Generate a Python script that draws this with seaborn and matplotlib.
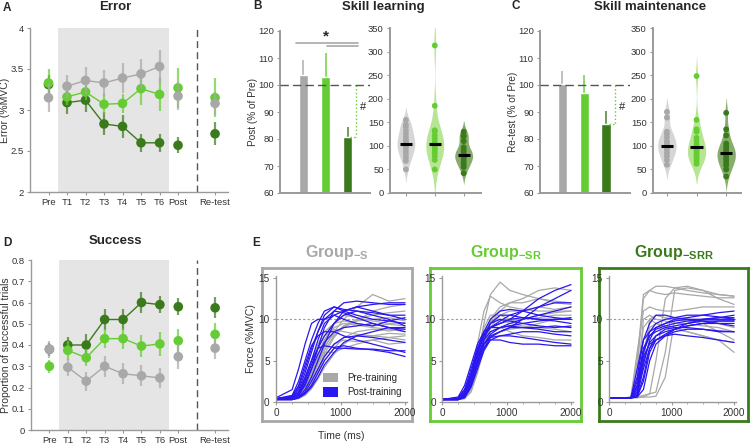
import numpy as np
import pandas as pd
import matplotlib
matplotlib.use("Agg")
import matplotlib.pyplot as plt
import seaborn as sns
from matplotlib.patches import Patch

sns.set_style("ticks")
plt.rcParams['font.family'] = ['Liberation Sans', 'DejaVu Sans']
plt.rcParams['mathtext.fontset'] = 'custom'
plt.rcParams['mathtext.rm'] = 'Liberation Sans'
plt.rcParams['mathtext.bf'] = 'Liberation Sans:bold'

groups = ["S", "SR", "SRR"]
colors = {"S": "#a8a8a8", "SR": "#66cc33", "SRR": "#3b7a1c"}
violin_colors = {"S": "#d6d6d6", "SR": "#b6e593", "SRR": "#87ad6b"}
blue = "#2a16f0"

sessions = ["Pre", "T1", "T2", "T3", "T4", "T5", "T6", "Post", "Re-test"]
session_pos = [0, 1, 2, 3, 4, 5, 6, 7, 9]

# A - error
err_S = [3.15, 3.29, 3.36, 3.33, 3.39, 3.44, 3.53, 3.17, 3.08]
err_S_se = [0.18, 0.14, 0.16, 0.16, 0.18, 0.18, 0.20, 0.17, 0.14]
err_SR = [3.33, 3.16, 3.22, 3.07, 3.08, 3.26, 3.19, 3.27, 3.15]
err_SR_se = [0.17, 0.10, 0.10, 0.12, 0.12, 0.20, 0.20, 0.24, 0.24]
err_SRR = [3.31, 3.09, 3.12, 2.83, 2.80, 2.60, 2.60, 2.57, 2.71]
err_SRR_se = [0.12, 0.14, 0.15, 0.14, 0.14, 0.11, 0.11, 0.10, 0.14]

# D - success
suc_S = [0.38, 0.295, 0.23, 0.30, 0.265, 0.255, 0.245, 0.345, 0.385]
suc_S_se = [0.04, 0.04, 0.045, 0.05, 0.05, 0.05, 0.045, 0.06, 0.05]
suc_SR = [0.30, 0.375, 0.34, 0.43, 0.43, 0.395, 0.405, 0.42, 0.45]
suc_SR_se = [0.03, 0.045, 0.04, 0.045, 0.05, 0.05, 0.055, 0.055, 0.055]
suc_SRR = [0.38, 0.40, 0.40, 0.52, 0.52, 0.60, 0.59, 0.58, 0.575]
suc_SRR_se = [0.03, 0.04, 0.05, 0.05, 0.05, 0.05, 0.04, 0.04, 0.05]

# B / C bars
learn_mean = [103.8, 102.9, 80.7]
learn_se = [5.4, 8.9, 3.6]
maint_mean = [100.5, 97.0, 85.5]
maint_se = [4.8, 6.8, 5.0]

# B / C individual values
learn_S = [50, 68, 75, 82, 88, 95, 100, 104, 108, 112, 118, 125, 132, 140, 145, 155]
learn_SR = [50, 70, 78, 85, 90, 95, 100, 103, 108, 115, 122, 130, 133, 185, 313]
learn_SRR = [42, 55, 60, 65, 70, 75, 78, 80, 83, 88, 92, 97, 110, 120, 122, 130]
learn_med = [104, 103, 80]
maint_S = [60, 70, 78, 85, 92, 97, 100, 105, 110, 118, 125, 130, 160, 172]
maint_SR = [62, 68, 72, 76, 80, 84, 88, 92, 97, 103, 110, 117, 130, 135, 155, 248]
maint_SRR = [35, 50, 58, 63, 68, 73, 78, 82, 86, 90, 95, 100, 105, 122, 135, 170]
maint_med = [100, 97, 85]

# E - force traces (ms, %MVC)
trace_time = [0, 250, 350, 450, 550, 650, 750, 900, 1050, 1250, 1500, 1750, 2000]
S_pre = [
    [0.4, 0.4, 0.6, 1.5, 3.0, 4.8, 6.5, 8.5, 10.0, 11.5, 13.0, 12.2, 12.5],
    [0.3, 0.3, 0.5, 1.2, 2.5, 4.0, 5.8, 7.8, 9.2, 10.0, 10.5, 10.8, 11.0],
    [0.3, 0.5, 1.0, 2.2, 4.0, 5.8, 7.5, 9.0, 9.5, 9.3, 9.0, 8.8, 8.5],
    [0.4, 0.4, 0.6, 1.0, 2.0, 3.5, 5.0, 6.5, 7.8, 8.5, 8.8, 8.6, 8.8],
    [0.3, 0.3, 0.4, 0.8, 1.6, 2.8, 4.2, 5.8, 7.0, 8.0, 8.0, 7.8, 8.0],
    [0.3, 0.6, 1.5, 3.0, 5.0, 7.0, 8.5, 9.5, 9.8, 9.5, 9.2, 9.4, 9.2],
    [0.4, 0.4, 0.8, 1.8, 3.5, 5.5, 7.5, 9.5, 10.5, 10.2, 9.8, 9.5, 9.6],
    [0.3, 0.3, 0.5, 1.0, 2.2, 3.8, 5.5, 7.0, 7.5, 7.3, 7.5, 7.8, 7.5],
    [0.4, 0.5, 1.2, 2.8, 4.5, 6.5, 8.0, 8.8, 8.5, 8.2, 8.0, 8.3, 8.2],
    [0.3, 0.3, 0.6, 1.4, 2.8, 4.5, 6.2, 8.0, 9.0, 9.8, 11.0, 11.5, 11.8],
    [0.3, 0.4, 0.7, 1.6, 3.2, 5.0, 6.0, 6.0, 6.5, 7.0, 7.5, 7.0, 7.2],
    [0.4, 0.4, 0.9, 2.0, 3.6, 5.2, 6.8, 8.2, 9.2, 9.8, 10.0, 10.2, 9.8],
]
S_post = [
    [0.5, 1.5, 4.0, 7.0, 9.5, 10.0, 10.0, 10.5, 11.0, 11.5, 11.0, 10.5, 10.0],
    [0.4, 0.8, 2.5, 5.0, 7.5, 9.5, 11.0, 11.5, 11.0, 10.5, 10.0, 9.8, 9.5],
    [0.3, 0.4, 0.8, 2.0, 4.0, 6.5, 9.0, 11.0, 12.0, 12.2, 12.0, 11.8, 11.8],
    [0.3, 0.3, 0.6, 1.5, 3.0, 5.0, 7.0, 9.5, 11.0, 11.5, 11.8, 12.0, 12.0],
    [0.4, 0.5, 1.2, 3.0, 5.0, 6.5, 6.8, 6.6, 6.8, 6.5, 6.3, 6.0, 5.5],
    [0.3, 0.3, 0.5, 1.0, 2.0, 3.5, 5.0, 6.5, 6.5, 6.4, 6.4, 6.2, 6.2],
    [0.4, 0.6, 1.8, 4.0, 6.5, 8.5, 10.0, 11.0, 10.8, 10.2, 9.5, 9.0, 8.8],
    [0.3, 0.4, 1.0, 2.5, 4.5, 6.5, 8.0, 9.5, 10.5, 11.0, 10.5, 10.0, 9.2],
    [0.3, 0.3, 0.6, 1.2, 2.5, 4.0, 5.5, 7.0, 7.8, 8.0, 7.8, 7.5, 7.2],
    [0.4, 0.5, 1.5, 3.5, 6.0, 8.5, 10.5, 11.5, 11.2, 11.0, 10.8, 10.5, 10.5],
    [0.3, 0.4, 0.9, 2.2, 4.0, 5.8, 7.2, 8.5, 9.0, 9.2, 9.5, 9.0, 8.5],
    [0.3, 0.3, 0.5, 1.0, 1.8, 3.0, 4.5, 6.0, 7.2, 8.0, 8.5, 9.0, 9.0],
    [0.4, 0.7, 2.0, 4.5, 6.8, 8.0, 8.5, 8.5, 8.0, 7.5, 7.0, 6.5, 6.0],
    [0.3, 0.4, 1.0, 2.8, 5.0, 7.5, 9.5, 10.5, 10.0, 9.5, 9.2, 9.8, 10.2],
]
SR_pre = [
    [0.3, 0.3, 0.8, 3.0, 7.0, 11.0, 12.8, 12.0, 11.5, 11.2, 11.0, 11.0, 11.0],
    [0.3, 0.3, 0.5, 2.0, 5.5, 9.5, 13.0, 14.5, 13.5, 13.0, 12.5, 12.0, 11.8],
    [0.3, 0.3, 0.6, 2.0, 4.5, 7.5, 10.0, 11.5, 12.0, 12.0, 12.5, 12.2, 12.0],
    [0.3, 0.3, 0.5, 1.5, 4.0, 7.0, 9.5, 11.0, 12.0, 12.5, 13.5, 13.8, 13.5],
    [0.3, 0.3, 0.5, 1.8, 4.5, 7.5, 9.0, 9.5, 9.8, 10.0, 10.5, 10.8, 11.0],
    [0.3, 0.4, 1.0, 3.0, 6.0, 8.5, 9.8, 10.0, 9.5, 9.2, 9.0, 8.8, 8.5],
    [0.3, 0.3, 0.6, 2.0, 4.5, 7.0, 8.5, 9.0, 8.5, 8.0, 7.8, 7.5, 7.5],
    [0.3, 0.3, 0.4, 1.2, 3.5, 6.5, 9.0, 10.5, 11.0, 11.0, 11.5, 11.2, 11.5],
    [0.3, 0.3, 0.5, 1.5, 4.0, 6.5, 8.0, 8.5, 8.8, 9.0, 9.5, 10.0, 10.0],
    [0.3, 0.3, 0.5, 2.5, 6.0, 9.0, 10.5, 10.5, 10.0, 10.0, 10.2, 10.5, 10.5],
]
SR_post = [
    [0.3, 0.4, 1.0, 3.0, 6.0, 8.0, 9.0, 9.5, 10.0, 11.0, 12.5, 13.5, 14.2],
    [0.3, 0.3, 0.8, 2.5, 5.0, 7.0, 8.0, 8.5, 9.0, 10.0, 11.5, 12.5, 13.5],
    [0.3, 0.5, 1.5, 4.0, 6.5, 8.0, 9.0, 9.5, 10.0, 10.2, 10.0, 9.8, 9.5],
    [0.3, 0.3, 0.6, 2.0, 4.5, 6.5, 7.5, 7.5, 7.2, 7.0, 7.0, 6.8, 6.8],
    [0.3, 0.4, 1.2, 3.5, 6.5, 8.5, 10.0, 11.0, 11.2, 11.0, 10.5, 10.2, 10.0],
    [0.3, 0.3, 0.8, 2.8, 5.5, 7.5, 8.5, 9.0, 9.2, 9.0, 9.0, 9.2, 9.0],
    [0.3, 0.5, 1.5, 3.5, 5.5, 7.0, 7.8, 8.0, 8.0, 7.8, 7.5, 7.2, 7.0],
    [0.3, 0.3, 0.6, 2.0, 4.8, 7.5, 9.5, 10.5, 10.5, 10.2, 10.0, 10.0, 10.2],
    [0.3, 0.4, 1.0, 3.0, 5.8, 8.0, 9.0, 9.8, 10.5, 11.0, 11.5, 12.0, 12.0],
    [0.3, 0.3, 0.8, 2.2, 4.5, 6.5, 7.8, 8.5, 9.0, 9.0, 8.8, 8.5, 8.5],
    [0.3, 0.6, 2.0, 4.5, 7.0, 8.5, 9.0, 9.0, 9.2, 9.5, 9.8, 10.0, 10.0],
    [0.3, 0.3, 0.7, 2.5, 5.0, 7.0, 8.2, 9.0, 9.5, 10.0, 10.5, 11.0, 11.5],
    [0.3, 0.4, 1.2, 3.2, 6.0, 8.2, 9.5, 10.0, 9.8, 9.5, 9.2, 9.0, 9.2],
    [0.3, 0.3, 0.5, 1.8, 4.0, 6.2, 7.5, 8.0, 8.2, 8.5, 8.5, 8.2, 8.0],
]
SRR_pre = [
    [0.5, 0.5, 0.5, 4.0, 12.5, 13.5, 14.0, 14.0, 13.8, 13.5, 13.2, 13.0, 12.8],
    [0.5, 0.5, 0.6, 6.0, 11.0, 11.5, 11.2, 11.0, 11.0, 11.2, 11.5, 11.5, 11.5],
    [0.5, 0.5, 0.5, 2.0, 10.0, 10.5, 10.0, 9.8, 9.5, 9.5, 9.2, 9.0, 8.5],
    [0.5, 0.5, 0.5, 0.8, 5.0, 10.0, 10.5, 10.2, 10.0, 9.8, 9.5, 8.5, 7.5],
    [0.5, 0.5, 0.5, 0.6, 0.8, 1.0, 1.2, 6.0, 13.5, 13.8, 13.5, 12.5, 11.8],
    [0.5, 0.5, 0.5, 0.6, 0.6, 0.6, 0.7, 3.0, 10.0, 10.0, 9.8, 9.5, 9.0],
    [0.5, 0.5, 0.5, 3.0, 9.0, 10.0, 9.5, 9.0, 8.8, 8.5, 8.0, 7.5, 6.0],
    [0.5, 0.5, 0.5, 1.5, 6.0, 9.0, 9.5, 9.2, 9.0, 8.5, 8.0, 7.5, 7.2],
    [0.5, 0.5, 0.6, 5.0, 13.0, 13.5, 13.2, 13.0, 13.2, 13.0, 12.8, 12.6, 12.6],
    [0.5, 0.5, 0.5, 0.5, 0.6, 1.0, 5.0, 12.5, 13.8, 14.0, 13.5, 13.0, 12.8],
]
SRR_post = [
    [0.5, 0.5, 0.5, 4.0, 7.5, 8.5, 9.0, 9.5, 10.0, 10.2, 10.5, 10.8, 11.0],
    [0.5, 0.5, 0.5, 2.0, 6.0, 8.0, 8.8, 9.2, 9.5, 9.8, 10.0, 10.2, 10.2],
    [0.5, 0.5, 0.5, 1.0, 5.0, 7.2, 8.0, 8.5, 8.8, 9.2, 9.5, 9.8, 9.8],
    [0.5, 0.5, 0.5, 0.6, 2.5, 6.0, 7.5, 8.2, 8.8, 9.2, 9.5, 9.5, 9.5],
    [0.5, 0.5, 0.5, 3.0, 7.5, 9.5, 10.5, 10.5, 10.2, 10.0, 9.8, 9.5, 9.2],
    [0.5, 0.5, 0.5, 0.8, 4.0, 6.5, 7.5, 8.0, 8.5, 8.8, 8.8, 8.5, 8.5],
    [0.5, 0.5, 0.5, 1.5, 5.5, 7.0, 7.5, 8.0, 8.2, 8.0, 7.8, 7.5, 7.2],
    [0.5, 0.5, 0.5, 0.6, 1.5, 5.0, 7.0, 8.0, 8.8, 9.5, 10.0, 10.2, 10.5],
    [0.5, 0.5, 0.5, 2.5, 6.5, 8.0, 8.5, 9.0, 9.2, 9.5, 9.8, 9.8, 9.8],
    [0.5, 0.5, 0.5, 1.2, 4.5, 7.5, 9.0, 9.5, 9.8, 10.0, 10.0, 10.0, 10.0],
    [0.5, 0.5, 0.5, 0.7, 3.0, 6.5, 8.0, 8.8, 9.0, 9.0, 8.8, 8.6, 8.5],
    [0.5, 0.5, 0.5, 1.8, 6.0, 8.5, 9.5, 10.0, 10.2, 10.5, 10.5, 10.3, 10.0],
]

W, H = 750, 445
fig = plt.figure(figsize=(W / 100, H / 100), dpi=100)


def px(x0, y0, x1, y1):
    # pixel box (top-left origin) -> figure fraction rect
    return [x0 / W, (H - y1) / H, (x1 - x0) / W, (y1 - y0) / H]


def style_axis(ax, lw=1.0, size=7):
    sns.despine(ax=ax)
    for s in ["left", "bottom"]:
        ax.spines[s].set_color("#9a9a9a")
        ax.spines[s].set_linewidth(lw)
    ax.tick_params(colors="#9a9a9a", labelcolor="#333333", labelsize=size, length=2.5, width=0.8, pad=2)


def session_panel(ax, means, ses, ylim, yticks, ylabels, ylabel):
    ax.axvspan(0.5, 6.5, color="#e5e5e5", lw=0, zorder=0)
    ax.axvline(8, color="#555555", ls=(0, (5, 3)), lw=1, zorder=1)
    for i, g in enumerate(["SRR", "SR", "S"]):
        df = pd.DataFrame({"pos": session_pos, "m": means[g], "se": ses[g]})
        z = 2 + i * 3
        ax.errorbar(df.pos, df.m, yerr=df.se, fmt="none", ecolor=colors[g],
                    elinewidth=1.6, alpha=0.7, zorder=z)
        sub = df[(df.pos >= 1) & (df.pos <= 6)]
        sns.lineplot(data=sub, x="pos", y="m", color=colors[g], lw=1, ax=ax, zorder=z + 1)
        sns.scatterplot(data=df, x="pos", y="m", color=colors[g], s=48, edgecolor="none",
                        ax=ax, zorder=z + 2)
    ax.set_xlim(-1.0, 9.7)
    ax.set_ylim(*ylim)
    ax.set_yticks(yticks)
    ax.set_yticklabels(ylabels)
    ax.set_xticks(session_pos)
    ax.set_xticklabels(sessions)
    ax.set_xlabel("")
    ax.set_ylabel(ylabel, fontsize=7.5, color="#333333")
    style_axis(ax, size=6.8)
    ax.tick_params(axis="x", pad=1.5)
    ax.yaxis.set_label_coords(-0.1, 0.5)


def bar_panel(ax, means, ses, xlim, ylabel, bracket_x, hash_x, stars=False):
    df = pd.DataFrame({"group": groups, "v": means})
    sns.barplot(data=df, x="group", y="v", hue="group", palette=colors, width=0.42,
                saturation=1, legend=False, ax=ax, zorder=2)
    for i, g in enumerate(groups):
        ax.errorbar(i, means[i], yerr=[[0], [ses[i]]], fmt="none", ecolor=colors[g],
                    elinewidth=1.2, alpha=0.85, zorder=1)
    ax.axhline(100, color="#555555", ls=(0, (6, 3)), lw=1, zorder=3)
    ax.plot([bracket_x, bracket_x], [100, means[2]], color="#66cc33", ls=":", lw=1)
    ax.plot([bracket_x - 0.25, bracket_x], [means[2], means[2]], color="#66cc33", ls=":", lw=1)
    ax.text(hash_x, 92, "#", fontsize=8, ha="center", va="center", color="#222222")
    if stars:
        ax.plot([-0.35, 2.45], [115.6, 115.6], color="#a8a8a8", lw=1.2, clip_on=False)
        ax.plot([1.05, 2.45], [114.6, 114.6], color="#a8a8a8", lw=1.2, clip_on=False)
        ax.text(1.0, 118.0, "*", fontsize=11, fontweight="bold", ha="center", va="center")
    ax.set_xlim(*xlim)
    ax.set_ylim(60, 120)
    ax.set_yticks(range(60, 121, 10))
    ax.set_xticks([])
    ax.set_xlabel("")
    ax.set_ylabel(ylabel, fontsize=7.2, color="#333333")
    style_axis(ax, lw=1.4, size=6.8)
    ax.yaxis.set_label_coords(-0.25, 0.5)


def violin_panel(ax, values, meds, xlim):
    df = pd.DataFrame({
        "group": sum([[g] * len(v) for g, v in zip(groups, values)], []),
        "v": sum(values, []),
    })
    sns.violinplot(data=df, x="group", y="v", hue="group", palette=violin_colors,
                   inner=None, width=0.62, linewidth=0, saturation=1, density_norm="width",
                   bw_adjust=0.8, legend=False, ax=ax)
    sns.stripplot(data=df, x="group", y="v", hue="group", palette=colors, jitter=False,
                  size=4.2, linewidth=0, legend=False, ax=ax, zorder=3)
    ax.hlines(meds, [i - 0.21 for i in range(3)], [i + 0.21 for i in range(3)],
              color="black", lw=2.2, zorder=4)
    ax.set_xlim(*xlim)
    ax.set_ylim(0, 350)
    ax.set_yticks(range(0, 351, 50))
    ax.set_xticks(range(3))
    ax.set_xticklabels([])
    ax.set_xlabel("")
    ax.set_ylabel("")
    style_axis(ax, lw=1.4, size=6.8)


# ---- A
axA = fig.add_axes(px(30, 28, 228, 192))
session_panel(axA,
              {"S": err_S, "SR": err_SR, "SRR": err_SRR},
              {"S": err_S_se, "SR": err_SR_se, "SRR": err_SRR_se},
              (2, 4), [2, 2.5, 3, 3.5, 4], ["2", "2.5", "3", "3.5", "4"], "Error (%MVC)")

# ---- D
axD = fig.add_axes(px(31, 260, 228, 430))
session_panel(axD,
              {"S": suc_S, "SR": suc_SR, "SRR": suc_SRR},
              {"S": suc_S_se, "SR": suc_SR_se, "SRR": suc_SRR_se},
              (0, 0.8), [0, 0.1, 0.2, 0.3, 0.4, 0.5, 0.6, 0.7, 0.8],
              ["0", "0.1", "0.2", "0.3", "0.4", "0.5", "0.6", "0.7", "0.8"],
              "Proportion of successful trials")

# ---- B
axB1 = fig.add_axes(px(280, 31, 370, 193))
bar_panel(axB1, learn_mean, learn_se, (-1.05, 3.0), "Post (% of Pre)", 2.36, 2.68, stars=True)
axB2 = fig.add_axes(px(390, 28, 481, 193))
violin_panel(axB2, [learn_S, learn_SR, learn_SRR], learn_med, (-0.55, 2.6))

# ---- C
axC1 = fig.add_axes(px(540, 31, 630, 193))
bar_panel(axC1, maint_mean, maint_se, (-1.02, 3.1), "Re-test (% of Pre)", 2.4, 2.75)
axC2 = fig.add_axes(px(653, 28, 741, 193))
violin_panel(axC2, [maint_S, maint_SR, maint_SRR], maint_med, (-0.47, 2.5))

# ---- E
boxes = [(262, 412), (430, 581), (599, 748)]
inner_left = [276, 442, 609]
inner_width = [131, 131, 127]
trace_sets = [(S_pre, S_post), (SR_pre, SR_post), (SRR_pre, SRR_post)]
titles = [r"$\mathbf{Group}_{\mathbf{-S}}$", r"$\mathbf{Group}_{\mathbf{-SR}}$",
          r"$\mathbf{Group}_{\mathbf{-SRR}}$"]
for k, g in enumerate(groups):
    bx0, bx1 = boxes[k]
    frame = fig.add_axes(px(bx0, 268, bx1, 421))
    frame.set_facecolor("none")
    frame.set_xticks([])
    frame.set_yticks([])
    for s in frame.spines.values():
        s.set_color(colors[g])
        s.set_linewidth(2)
    fig.text((bx0 + bx1) / 2 / W, (H - 253) / H, titles[k], color=colors[g],
             fontsize=11.5, ha="center", va="center")

    ax = fig.add_axes(px(inner_left[k], 275.5, inner_left[k] + inner_width[k], 402))
    ax.set_facecolor("none")
    pre, post = trace_sets[k]
    for tr in pre:
        sns.lineplot(x=trace_time, y=tr, color="#a8a8a8", lw=0.9, ax=ax)
    for tr in post:
        sns.lineplot(x=trace_time, y=tr, color=blue, lw=0.9, ax=ax)
    ax.axhline(10, color="#999999", ls=(0, (2, 2)), lw=0.8, zorder=0)
    ax.set_xlim(0, 2030)
    ax.set_ylim(0, 15.3)
    ax.set_xticks([0, 1000, 2000])
    ax.set_xticks(range(0, 2001, 250), minor=True)
    ax.set_yticks([0, 5, 10, 15])
    style_axis(ax, size=7.2)
    ax.tick_params(which="minor", length=1.5, colors="#9a9a9a")
    if k == 0:
        ax.set_ylabel("Force (%MVC)", fontsize=7.5, color="#333333")
        ax.yaxis.set_label_coords(-0.15, 0.5)
        ax.set_xlabel("Time (ms)", fontsize=7.5, color="#333333", labelpad=9)
        handles = [Patch(facecolor="#a8a8a8", edgecolor="none", label="Pre-training"),
                   Patch(facecolor=blue, edgecolor="none", label="Post-training")]
        ax.legend(handles=handles, loc="lower right", frameon=False, fontsize=7,
                  handlelength=1.5, handleheight=1.1, borderaxespad=0.1,
                  labelspacing=0.45, handletextpad=1.0)

# panel letters and titles
for letter, x, y in [("A", 3, 8), ("B", 253, 6), ("C", 512, 6), ("D", 3, 243), ("E", 252, 243)]:
    fig.text(x / W, (H - y) / H, letter, fontsize=8.5, fontweight="bold", va="center")
for title, x, y in [("Error", 115, 7), ("Skill learning", 383, 7),
                    ("Skill maintenance", 650, 7), ("Success", 115, 241)]:
    fig.text(x / W, (H - y) / H, title, fontsize=9.5, fontweight="bold", ha="center", va="center")

fig.savefig("out.png", dpi=100)
